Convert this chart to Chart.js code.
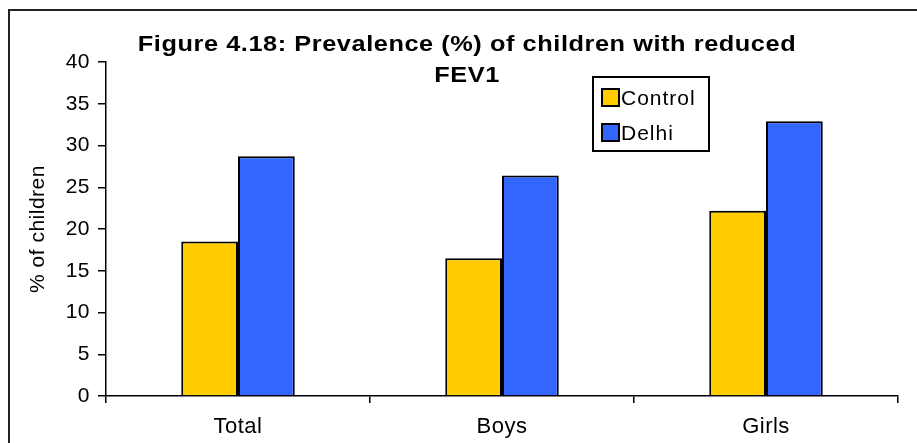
<!DOCTYPE html>
<html>
<head>
<meta charset="utf-8">
<script src="https://cdn.jsdelivr.net/npm/chart.js@4/dist/chart.umd.min.js"></script>
<style>
  body { margin: 0; background: #fff; font-family: "Liberation Sans", Arial, sans-serif; }
  #wrap { position: relative; width: 917px; height: 443px; overflow: hidden; }
  #frame { position: absolute; left: 8px; top: 9px; width: 940px; height: 470px; border: 2px solid #222; }
  #title { position: absolute; left: 467px; top: 28px; width: 700px; margin-left: -350px; text-align: center;
           font-weight: bold; font-size: 22px; line-height: 31px; color: #000; letter-spacing: 0.5px;
           transform: scaleX(1.15); }
  #legend { position: absolute; left: 592px; top: 76px; width: 118px; height: 76px;
            border: 2px solid #000; box-sizing: border-box; font-size: 21px; color: #000; }
  .item { position: absolute; left: 7px; height: 22px; line-height: 22px; letter-spacing: 1px; }
  .sw { display: inline-block; width: 15px; height: 15px; border: 2px solid #000;
        vertical-align: -2px; margin-right: 1px; }
  canvas { position: absolute; left: 0; top: 0; }
</style>
</head>
<body>
<div id="wrap">
  <div id="frame"></div>
  <canvas id="chart" width="917" height="443"></canvas>
  <div id="title">Figure 4.18: Prevalence (%) of children with reduced<br>FEV1</div>
  <div id="legend"></div>
</div>
<script>
// values
var categories = ['Total', 'Boys', 'Girls'];
var controlValues = [18.5, 16.5, 22.2];
var delhiValues = [28.7, 26.4, 32.9];
var seriesNames = ['Control', 'Delhi'];
var seriesColors = ['#FFCC00', '#3366FF'];
var yTicks = [0, 5, 10, 15, 20, 25, 30, 35, 40];

// the reference text is drawn a bit wider than plain Arial
var spacingPlugin = {
  id: 'spacing',
  beforeDraw: function(chart) { chart.ctx.letterSpacing = '0.5px'; }
};

var chartConfig = {
  type: 'bar',
  data: {
    labels: categories,
    datasets: [{
      label: seriesNames[0],
      data: controlValues,
      backgroundColor: seriesColors[0],
      borderColor: '#000',
      borderWidth: 2,
      categoryPercentage: 0.43,
      barPercentage: 1
    }, {
      label: seriesNames[1],
      data: delhiValues,
      backgroundColor: seriesColors[1],
      borderColor: '#000',
      borderWidth: 2,
      categoryPercentage: 0.43,
      barPercentage: 1
    }]
  },
  options: {
    responsive: false,
    animation: false,
    layout: { padding: { left: 0, top: 62, right: 19, bottom: 0 } },
    plugins: {
      legend: { display: false },
      title: { display: false },
      tooltip: { enabled: false }
    },
    scales: {
      x: {
        grid: { display: true, drawOnChartArea: false, offset: true, color: '#000', tickLength: 7, lineWidth: 1.5 },
        border: { display: true, color: '#000', width: 1.5 },
        ticks: { color: '#000', font: { family: 'Liberation Sans', size: 22 }, padding: 11 },
        afterFit: function(scale) { scale.height = 47; }
      },
      y: {
        min: 0,
        max: 40,
        afterBuildTicks: function(scale) {
          scale.ticks = yTicks.map(function(v) { return { value: v }; });
        },
        grid: { display: true, drawOnChartArea: false, color: '#000', tickLength: 8, lineWidth: 1.5 },
        border: { display: true, color: '#000', width: 1.5 },
        ticks: { color: '#000', font: { family: 'Liberation Sans', size: 21 }, padding: 8 },
        title: {
          display: true,
          text: '% of children',
          color: '#000',
          font: { family: 'Liberation Sans', size: 21 },
          padding: { top: 26, bottom: 0 }
        },
        afterFit: function(scale) { scale.width = 106; }
      }
    }
  },
  plugins: [spacingPlugin]
};

var chart = new Chart(document.getElementById('chart'), chartConfig);

// legend box as html
var legendBox = document.getElementById('legend');
seriesNames.forEach(function(name, i) {
  var item = document.createElement('div');
  item.className = 'item';
  item.style.top = (i === 0 ? 9 : 44) + 'px';
  item.innerHTML = '<span class="sw" style="background:' + seriesColors[i] + '"></span>' + name;
  legendBox.appendChild(item);
});
</script>
</body>
</html>
